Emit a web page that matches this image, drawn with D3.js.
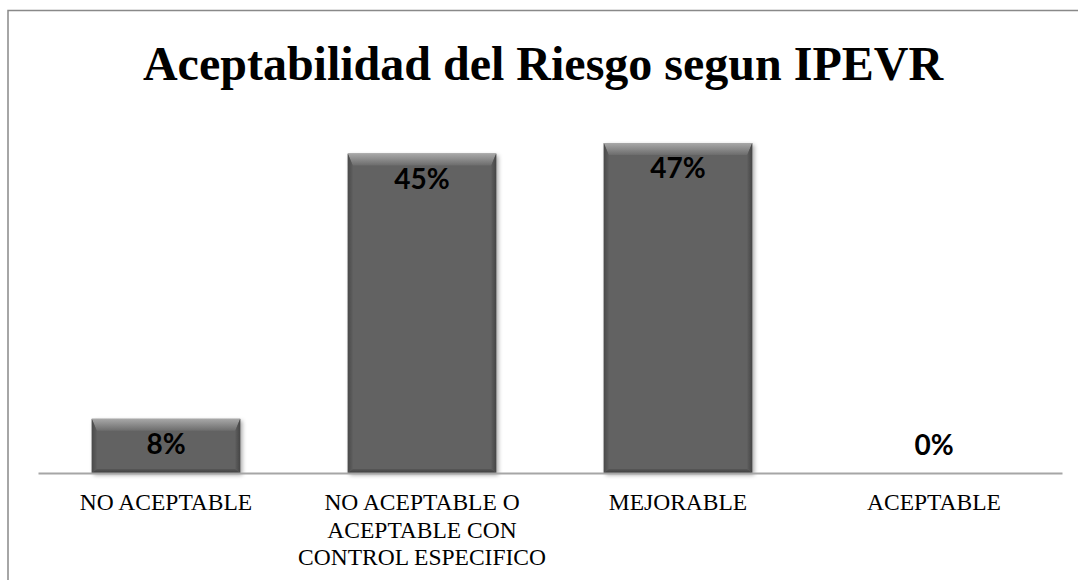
<!DOCTYPE html>
<html>
<head>
<meta charset="utf-8">
<script src="https://cdn.jsdelivr.net/npm/d3@7"></script>
<style>
  html, body { margin: 0; padding: 0; background: #fff; }
  svg { display: block; }
</style>
</head>
<body>
<script>
// ---- data ----
const categories = ["NO ACEPTABLE", "NO ACEPTABLE O ACEPTABLE CON CONTROL ESPECIFICO", "MEJORABLE", "ACEPTABLE"];
const categoryLines = [["NO ACEPTABLE"], ["NO ACEPTABLE O", "ACEPTABLE CON", "CONTROL ESPECIFICO"], ["MEJORABLE"], ["ACEPTABLE"]];
const values = [0.077, 0.454, 0.469, 0];
const title = "Aceptabilidad del Riesgo segun IPEVR";

const W = 1078, H = 580;
const svg = d3.select("body").append("svg").attr("width", W).attr("height", H);

const defs = svg.append("defs");
const f = defs.append("filter").attr("id", "shadow").attr("x", "-10%").attr("y", "-10%").attr("width", "130%").attr("height", "130%");
f.append("feDropShadow").attr("dx", 2).attr("dy", 2).attr("stdDeviation", 2).attr("flood-color", "#000").attr("flood-opacity", 0.35);

const gTop = defs.append("linearGradient").attr("id", "bevTop").attr("x1", 0).attr("y1", 0).attr("x2", 0).attr("y2", 1);
gTop.append("stop").attr("offset", "0%").attr("stop-color", "#a8a8a8");
gTop.append("stop").attr("offset", "100%").attr("stop-color", "#6c6c6c");
const gBot = defs.append("linearGradient").attr("id", "bevBot").attr("x1", 0).attr("y1", 0).attr("x2", 0).attr("y2", 1);
gBot.append("stop").attr("offset", "0%").attr("stop-color", "#575757");
gBot.append("stop").attr("offset", "100%").attr("stop-color", "#3e3e3e");
const gL = defs.append("linearGradient").attr("id", "bevL").attr("x1", 0).attr("y1", 0).attr("x2", 1).attr("y2", 0);
gL.append("stop").attr("offset", "0%").attr("stop-color", "#4a4a4a");
gL.append("stop").attr("offset", "100%").attr("stop-color", "#5e5e5e");
const gR = defs.append("linearGradient").attr("id", "bevR").attr("x1", 0).attr("y1", 0).attr("x2", 1).attr("y2", 0);
gR.append("stop").attr("offset", "0%").attr("stop-color", "#5e5e5e");
gR.append("stop").attr("offset", "100%").attr("stop-color", "#454545");

// chart border
svg.append("rect").attr("x", 8).attr("y", 10.5).attr("width", 1100).attr("height", 620)
  .attr("fill", "none").attr("stroke", "#898989").attr("stroke-width", 1.5);

// title
svg.append("text").attr("x", 543).attr("y", 80).attr("text-anchor", "middle")
  .attr("font-family", "'Liberation Serif', 'Times New Roman', serif").attr("font-weight", "bold")
  .attr("font-size", 48).attr("fill", "#000").text(title);

// scales
const x = d3.scaleBand().domain(categories).range([38, 1062]).paddingInner(0.42).paddingOuter(0.21);
const y = d3.scaleLinear().domain([0, 0.5]).range([473, 121.2]);

// bars
const bars = svg.append("g").selectAll("g.bar").data(values.map((v, i) => ({ v, c: categories[i] })))
  .join("g").attr("class", "bar");

bars.each(function(d) {
  if (d.v <= 0) return;
  const g = d3.select(this);
  const x0 = x(d.c), x1 = x0 + x.bandwidth();
  const y0 = y(d.v), y1 = y(0);
  const bt = 12, bs = 5, bb = 4;
  g.append("rect").attr("x", x0).attr("y", y0).attr("width", x1 - x0).attr("height", y1 - y0)
    .attr("fill", "#626262").attr("filter", "url(#shadow)");
  const pts = a => a.map(p => p.join(",")).join(" ");
  g.append("polygon").attr("points", pts([[x0, y0], [x1, y0], [x1 - bs, y0 + bt], [x0 + bs, y0 + bt]])).attr("fill", "url(#bevTop)");
  g.append("polygon").attr("points", pts([[x0, y0], [x0 + bs, y0 + bt], [x0 + bs, y1 - bb], [x0, y1]])).attr("fill", "url(#bevL)");
  g.append("polygon").attr("points", pts([[x1, y0], [x1 - bs, y0 + bt], [x1 - bs, y1 - bb], [x1, y1]])).attr("fill", "url(#bevR)");
  g.append("polygon").attr("points", pts([[x0, y1], [x0 + bs, y1 - bb], [x1 - bs, y1 - bb], [x1, y1]])).attr("fill", "url(#bevBot)");
});

// value labels
const fmt = d3.format(".0%");
svg.append("g").selectAll("text").data(values.map((v, i) => ({ v, c: categories[i] })))
  .join("text")
  .attr("x", d => x(d.c) + x.bandwidth() / 2)
  .attr("y", d => Math.min(y(d.v) + 35, y(0) - 18))
  .attr("text-anchor", "middle")
  .attr("font-family", "Lato, 'Open Sans', sans-serif").attr("font-weight", "bold")
  .attr("font-size", 28).attr("fill", "#000")
  .text(d => fmt(d.v));

// axis
const axis = d3.axisBottom(x).tickSize(0).tickFormat(() => "");
const ag = svg.append("g").attr("transform", `translate(0,${y(0)})`).call(axis);
ag.select(".domain").attr("stroke", "#a6a6a6").attr("stroke-width", 2);
ag.selectAll(".tick").each(function(c, i) {
  const t = d3.select(this).select("text").text(null)
    .attr("y", 37).attr("dy", null)
    .attr("font-family", "'Liberation Serif', 'Times New Roman', serif")
    .attr("font-size", 23.5).attr("fill", "#000");
  categoryLines[i].forEach((ln, j) => {
    t.append("tspan").attr("x", 0).attr("y", 37 + j * 27.5).text(ln);
  });
});
</script>
</body>
</html>
